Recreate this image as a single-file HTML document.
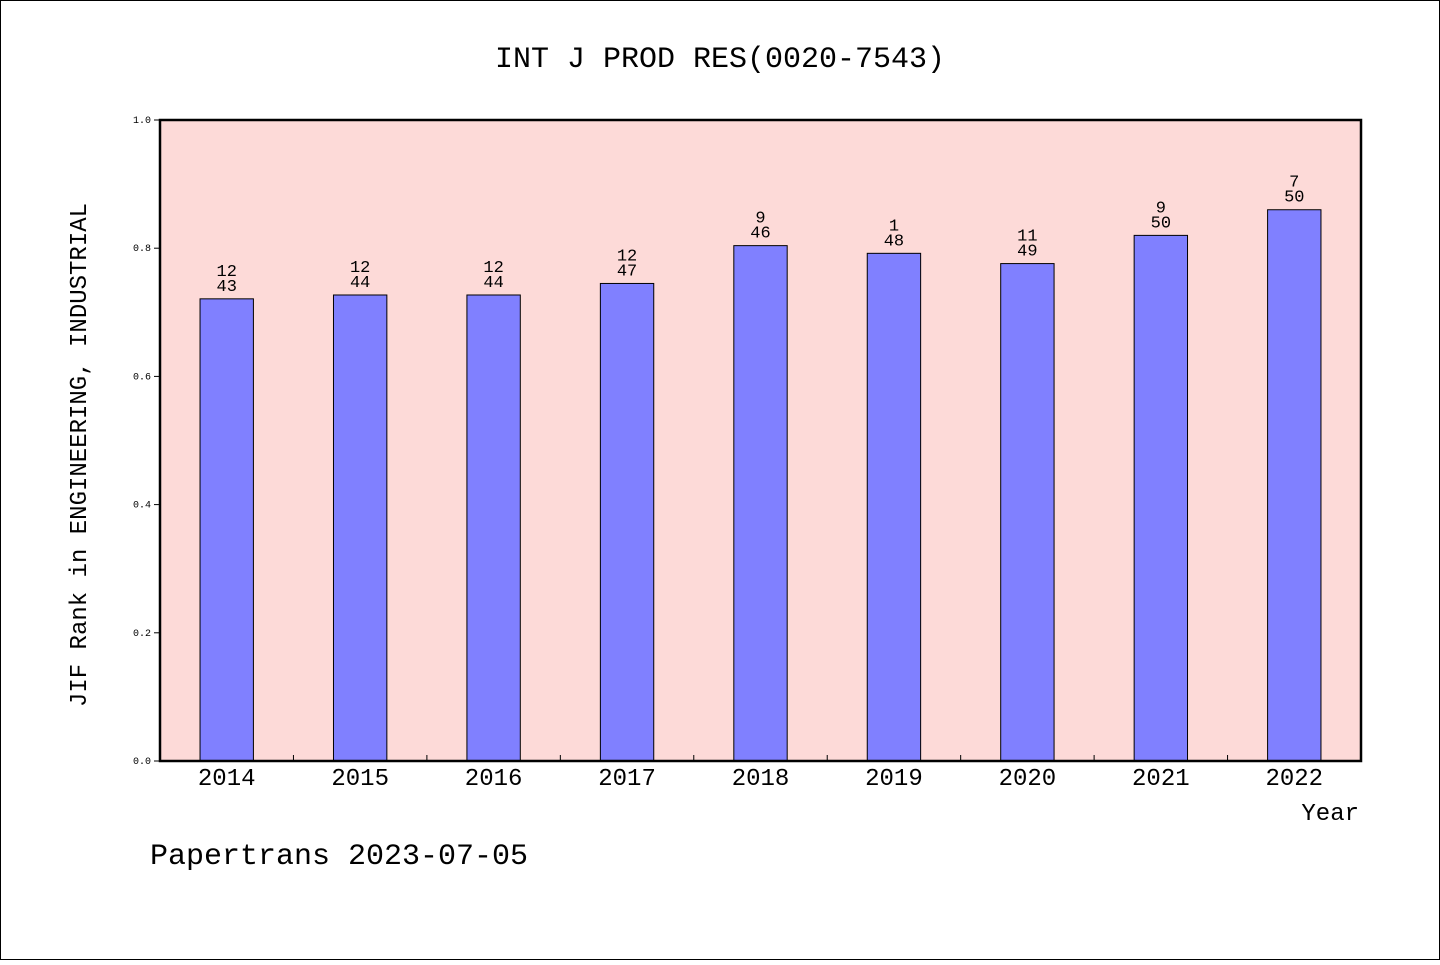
<!DOCTYPE html>
<html><head><meta charset="utf-8"><style>
body{margin:0;background:#fff}
svg text{font-family:"WenQuanYi Zen Hei","Liberation Mono",monospace;fill:#000}
</style></head><body>
<svg id="chart" width="1440" height="960" xmlns="http://www.w3.org/2000/svg">
<rect x="0.5" y="0.5" width="1439" height="959" fill="#fff" stroke="#000"/>
<text x="720" y="67" font-size="30" text-anchor="middle">INT J PROD RES(0020-7543)</text>
<rect x="160" y="120" width="1201" height="641" fill="#fddad8"/>
<g id="bars"></g>
<g id="axes"></g>
<rect x="160" y="120" width="1201" height="641" fill="none" stroke="#000" stroke-width="2.5"/>
<text x="86" y="455" font-size="24" text-anchor="middle" transform="rotate(-90 86 455)">JIF Rank in ENGINEERING, INDUSTRIAL</text>
<text x="1359" y="820" font-size="24" text-anchor="end">Year</text>
<text x="150" y="864" font-size="30">Papertrans 2023-07-05</text>
</svg>
<script>
const years=["2014","2015","2016","2017","2018","2019","2020","2021","2022"];
const values=[0.721,0.727,0.727,0.745,0.804,0.792,0.776,0.82,0.86];
const rankLabels=["12","12","12","12","9","1","11","9","7"];
const totalLabels=["43","44","44","47","46","48","49","50","50"];
const yTicks=[0,0.2,0.4,0.6,0.8,1.0];
const NS="http://www.w3.org/2000/svg";
const X0=160,X1=1361,Y0=761,Y1=120;
const step=(X1-X0)/years.length;
const xc=i=>X0+step*(i+0.5);
const y=v=>Y0-(v)*(Y0-Y1);
const bars=document.getElementById('bars'),axes=document.getElementById('axes');
function mk(tag,attrs,parent){const e=document.createElementNS(NS,tag);for(const k in attrs)e.setAttribute(k,attrs[k]);parent.appendChild(e);return e;}
years.forEach((yr,i)=>{
  const bw=step*0.4, top=y(values[i]);
  const r=mk('rect',{x:xc(i)-bw/2,y:top,width:bw,height:Y0-top,fill:'#8080ff',stroke:'#000','stroke-width':1},bars);
  
  
  const t1=mk('text',{x:xc(i),y:top-23,'font-size':17,'text-anchor':'middle'},bars);t1.textContent=rankLabels[i];
  
  
  const t2=mk('text',{x:xc(i),y:top-8,'font-size':17,'text-anchor':'middle'},bars);t2.textContent=totalLabels[i];
  
  
  const xl=mk('text',{x:xc(i),y:785,'font-size':24,'text-anchor':'middle'},axes);xl.textContent=yr;
  
  
  if(i>0){const tk=mk('line',{x1:X0+step*i,x2:X0+step*i,y1:Y0,y2:Y0-6,stroke:'#000'},axes);
  
  }
});
yTicks.forEach(v=>{
  const tk=mk('line',{x1:X0,x2:X0-6,y1:y(v),y2:y(v),stroke:'#000'},axes);
  
  
  const t=mk('text',{x:151,y:y(v)+3,'font-size':10,'text-anchor':'end'},axes);t.textContent=v.toFixed(1);
  
  
});
</script>
</body></html>
